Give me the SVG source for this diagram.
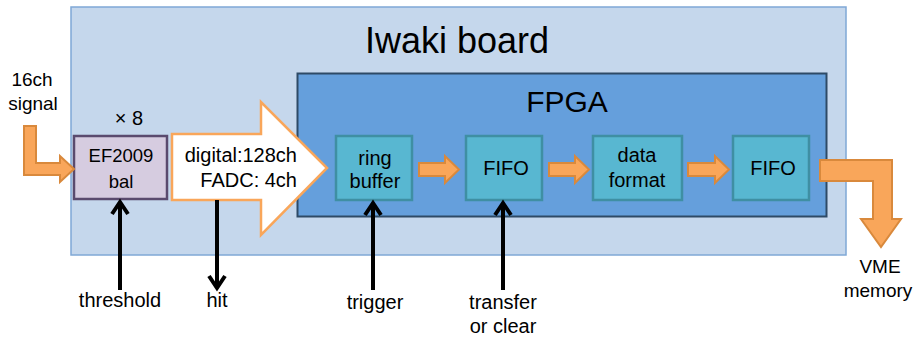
<svg xmlns="http://www.w3.org/2000/svg" width="917" height="337" viewBox="0 0 917 337">
<defs>
<style>
text{font-family:"Liberation Sans",Arial,sans-serif;fill:#000;}
.lbl{font-size:19px;text-anchor:middle;}
.bl{font-size:20px;text-anchor:middle;}
.bt{font-size:20px;text-anchor:middle;}
.blk{fill:#58B7D1;stroke:#3F8FA3;stroke-width:2.5;}
.oa{fill:#F9A65A;stroke:#D9893C;stroke-width:2;stroke-linejoin:miter;}
.sig{stroke:#000;stroke-width:4;fill:none;}
.head{stroke:#000;stroke-width:4;fill:none;stroke-linejoin:miter;stroke-linecap:butt;}
</style>
</defs>
<rect width="917" height="337" fill="#fff"/>
<g id="board">
<rect x="71" y="7" width="775" height="248" fill="#C5D7EC" stroke="#7FA8D6" stroke-width="1.5"/>
<text x="457" y="53" style="font-size:36px;text-anchor:middle;">Iwaki board</text>
</g>
<g id="fpga">
<rect x="297.5" y="73.5" width="529" height="143" fill="#659FDC" stroke="#2E4A66" stroke-width="2"/>
<text x="567" y="112" style="font-size:30px;text-anchor:middle;">FPGA</text>
</g>
<g id="ef2009">
<rect x="74" y="136" width="93" height="63" fill="#D6CCE0" stroke="#5A4A6E" stroke-width="2.5"/>
<text x="121" y="162" style="font-size:18.5px;text-anchor:middle;">EF2009</text>
<text x="121" y="188" style="font-size:18.5px;text-anchor:middle;">bal</text>
<text x="129" y="125" style="font-size:20px;text-anchor:middle;">× 8</text>
</g>
<g id="input-label">
<text x="32" y="86" class="lbl">16ch</text>
<text x="33" y="110" class="lbl">signal</text>
</g>
<g id="bus">
<path d="M172,134 H261 V102 L327,168 L261,235 V200 H172 Z" fill="#fff" stroke="#F9A65A" stroke-width="2.5"/>
<text x="297" y="162" style="font-size:20px;text-anchor:end;">digital:128ch</text>
<text x="297" y="187" style="font-size:20px;text-anchor:end;">FADC: 4ch</text>
</g>
<g id="ring-buffer">
<rect x="336" y="136" width="76" height="64" class="blk"/>
<text x="375" y="165" class="bt">ring</text>
<text x="375" y="188" class="bt">buffer</text>
</g>
<g id="fifo1">
<rect x="466" y="136" width="76" height="64" class="blk"/>
<text x="506" y="175" class="bt">FIFO</text>
</g>
<g id="data-format">
<rect x="593" y="136" width="89" height="64" class="blk"/>
<text x="637" y="162" class="bt">data</text>
<text x="637" y="187" class="bt">format</text>
</g>
<g id="fifo2">
<rect x="733" y="136" width="76" height="64" class="blk"/>
<text x="773" y="175" class="bt">FIFO</text>
</g>
<g id="output-label">
<text x="880" y="273" class="lbl">VME</text>
<text x="878" y="297" class="lbl">memory</text>
</g>
<g id="bottom-labels">
<text x="120" y="307" class="bl">threshold</text>
<text x="217" y="307" class="bl">hit</text>
<text x="375" y="309" class="bl">trigger</text>
<text x="503" y="309" class="bl">transfer</text>
<text x="503" y="333" class="bl">or clear</text>
</g>
<g id="connectors">
<path class="oa" d="M24,126 H36 V163 H60 V156 L74,169 L60,182 V175 H24 Z"/>
<path class="oa" d="M419,163 H445 V156 L459,169.5 L445,183 V176 H419 Z"/>
<path class="oa" d="M549,163 H575 V156 L589,169.5 L575,183 V176 H549 Z"/>
<path class="oa" d="M688,163 H715 V156 L729,169.5 L715,183 V176 H688 Z"/>
<path class="oa" d="M820,160 H892 V219 H901 L881,247 L861,219 H873 V181 H820 Z"/>
<line class="sig" x1="120" y1="290" x2="120" y2="202"/>
<path class="head" d="M112,214 L120,202 L128,214"/>
<line class="sig" x1="217" y1="200" x2="217" y2="288"/>
<path class="head" d="M209,276 L217,288 L225,276"/>
<line class="sig" x1="373" y1="290" x2="373" y2="203"/>
<path class="head" d="M365,215 L373,203 L381,215"/>
<line class="sig" x1="503" y1="290" x2="503" y2="203"/>
<path class="head" d="M495,215 L503,203 L511,215"/>
</g>
</svg>
